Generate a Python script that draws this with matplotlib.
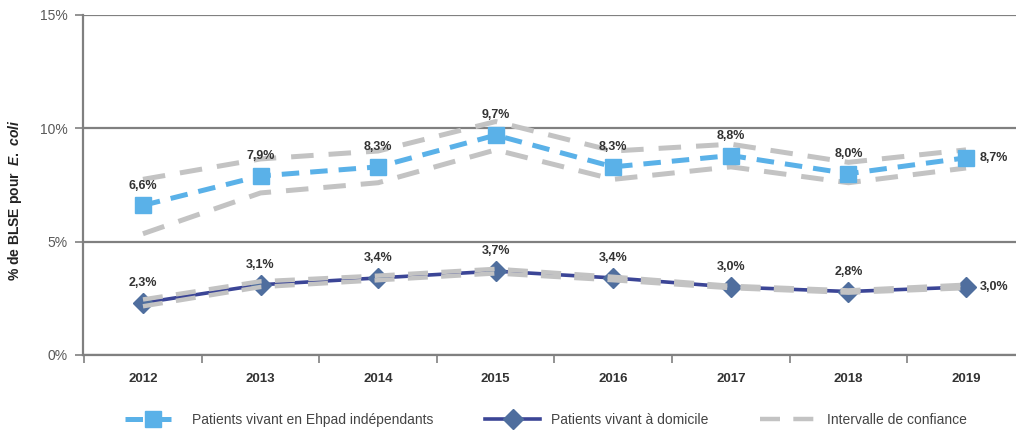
import matplotlib
matplotlib.use("Agg")
import matplotlib.pyplot as plt
import numpy as np

plt.rcParams['font.family'] = ['Liberation Sans', 'DejaVu Sans']
plt.rcParams['mathtext.fontset'] = 'custom'
plt.rcParams['mathtext.it'] = 'Liberation Sans:italic:bold'
plt.rcParams['mathtext.rm'] = 'Liberation Sans:bold'

# Data
years = ["2012", "2013", "2014", "2015", "2016", "2017", "2018", "2019"]
ehpad = [6.6, 7.9, 8.3, 9.7, 8.3, 8.8, 8.0, 8.7]
ehpad_hi = [7.75, 8.65, 9.0, 10.3, 9.0, 9.3, 8.5, 9.05]
ehpad_lo = [5.35, 7.15, 7.6, 9.05, 7.75, 8.3, 7.6, 8.25]
domicile = [2.3, 3.1, 3.4, 3.7, 3.4, 3.0, 2.8, 3.0]
domicile_hi = [2.45, 3.25, 3.5, 3.8, 3.45, 3.05, 2.85, 3.1]
domicile_lo = [2.15, 3.0, 3.3, 3.6, 3.3, 2.95, 2.75, 2.95]

labels = ["Patients vivant en Ehpad indépendants", "Patients vivant à domicile", "Intervalle de confiance"]

blue = "#5AB1E8"
navy = "#3B4596"
diamond = "#4F6E9E"
grey = "#C3C3C3"
axis_grey = "#808080"

x = np.arange(len(years))

fig = plt.figure(figsize=(10.16, 4.33), dpi=100)
ax = fig.add_axes([83 / 1016, 1 - 355 / 433, 1 - 83 / 1016, 340 / 433])

# confidence intervals (Ehpad) under the main line
ax.plot(x, ehpad_hi, color=grey, lw=3.6, dashes=(4.5, 3), zorder=2)
ax.plot(x, ehpad_lo, color=grey, lw=3.6, dashes=(4.5, 3), zorder=2)
l1, = ax.plot(x, ehpad, color=blue, lw=3.6, dashes=(3.5, 2.2), marker='s', markersize=12,
              markerfacecolor=blue, markeredgecolor=blue, zorder=3)

l2, = ax.plot(x, domicile, color=navy, lw=2.6, marker='D', markersize=10,
              markerfacecolor=diamond, markeredgecolor=diamond, zorder=3)
ax.plot(x, domicile_hi, color=grey, lw=3.2, dashes=(4.5, 3), zorder=4)
l3, = ax.plot(x, domicile_lo, color=grey, lw=3.2, dashes=(4.5, 3), zorder=4)

def fmt(v):
    return f"{v:.1f}".replace('.', ',') + '%'

for series in (ehpad, domicile):
    for i, v in enumerate(series):
        if i == len(series) - 1:
            ax.annotate(fmt(v), (x[i], v), xytext=(10, 0), textcoords='offset points',
                        ha='left', va='center', fontsize=9, fontweight='bold', color='#333333')
        else:
            ax.annotate(fmt(v), (x[i], v), xytext=(0, 10), textcoords='offset points',
                        ha='center', va='bottom', fontsize=9, fontweight='bold', color='#333333')

ax.set_xlim(-0.51, 7.425)
ax.set_ylim(0, 15)
ax.set_yticks([0, 5, 10, 15])
ax.set_yticklabels(["0%", "5%", "10%", "15%"])
ax.yaxis.grid(True, color=axis_grey, lw=1.6)
ax.set_axisbelow(True)
ax.set_xticks(x)
ax.set_xticklabels(years, fontweight='bold')
ax.set_xticks(np.arange(-0.5, 7.5, 1), minor=True)
ax.tick_params(axis='x', which='major', length=0, pad=13, labelsize=9.5, labelcolor='#333333')
ax.tick_params(axis='x', which='minor', length=6, width=1.2, color=axis_grey)
ax.tick_params(axis='y', length=6, width=1.2, color=axis_grey, labelsize=10,
               labelcolor='#595959', pad=5)
for s in ['top', 'right']:
    ax.spines[s].set_visible(False)
for s in ['left', 'bottom']:
    ax.spines[s].set_color(axis_grey)
    ax.spines[s].set_linewidth(1.6)

ax.set_ylabel(r"% de BLSE pour  $\mathit{E.\ coli}$", fontsize=10, fontweight='bold',
              color='#222222')
ax.yaxis.set_label_coords(-59 / 933, 0.456)

fig.legend([l1, l2, l3], labels, loc='center', bbox_to_anchor=(546 / 1016, 1 - 420 / 433),
           ncol=3, frameon=False, fontsize=10, columnspacing=3.7, handlelength=4.0,
           handletextpad=0.8, labelcolor='#444444')

fig.savefig("out.png", dpi=100)
